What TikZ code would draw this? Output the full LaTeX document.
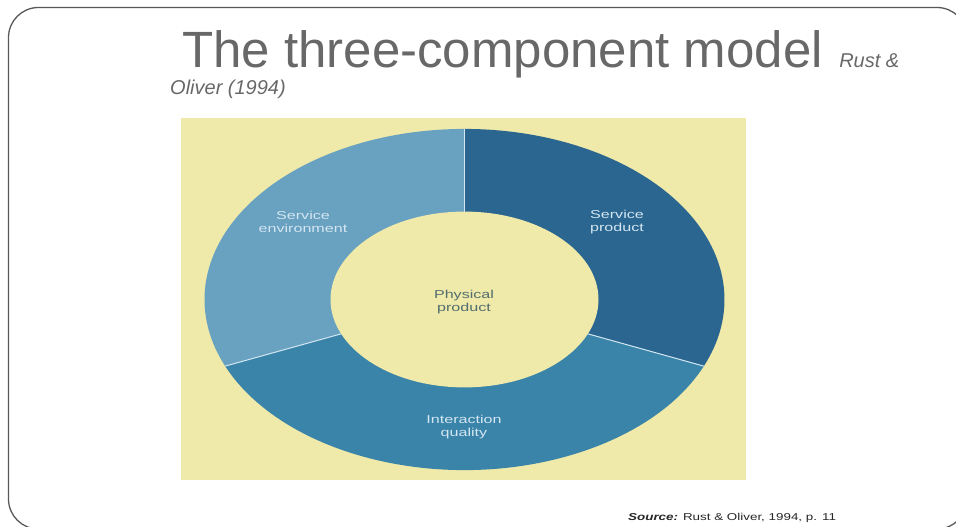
\documentclass[tikz,border=0pt]{standalone}
\usepackage{fontspec}
\setmainfont{Liberation Sans}
\newfontfamily\chartfont[FakeStretch=1.4]{Liberation Sans}
\newfontfamily\sourcefont[FakeStretch=1.34]{Liberation Sans}
\definecolor{slidegray}{HTML}{686868}
\definecolor{paleyellow}{HTML}{EFE9AA}
\definecolor{darkblue}{HTML}{2A6690}
\definecolor{midblue}{HTML}{3A84A9}
\definecolor{lightblue}{HTML}{69A1C1}
\definecolor{labelwhite}{HTML}{D3E6F1}
\definecolor{centretext}{HTML}{526E6E}
\tikzset{frame/.style={draw=black!65,line width=1.3pt,rounded corners=30pt}}
\tikzset{divider/.style={draw=labelwhite,line width=1pt}}
\tikzset{title/.style={inner sep=0pt,text=slidegray,
                       font=\fontsize{51}{60}\selectfont}}
\tikzset{subtitle/.style={title,font=\itshape\fontsize{20}{24}\selectfont}}
\tikzset{segtext/.style={align=center,inner sep=0pt,text=labelwhite,
                         font=\chartfont\fontsize{11.5}{12.5}\selectfont}}
\tikzset{hubtext/.style={segtext,text=centretext}}
\tikzset{sourcetext/.style={inner sep=0pt,text=black!85,
                            font=\sourcefont\fontsize{10}{12}\selectfont}}
\begin{document}
\begin{tikzpicture}[x=1pt,y=1pt]
    \useasboundingbox (0,0) rectangle (956,527);
    \clip (0,0) rectangle (956,527);
    \draw[frame] (8.5,519.5) rectangle (967,-2);
    \fill[paleyellow] (181,47) rectangle (746,409);
    \begin{scope}[shift={(464.5,227.5)},yscale=0.656]
      \fill[darkblue] (0,0) -- (90:260) arc[start angle=90,end angle=-23,radius=260] -- cycle;
      \fill[midblue] (0,0) -- (-23:260) arc[start angle=-23,end angle=-157,radius=260] -- cycle;
      \fill[lightblue] (0,0) -- (203:260) arc[start angle=203,end angle=90,radius=260] -- cycle;
      \fill[paleyellow] (0,0) circle[radius=134];
      \foreach \a in {90,-23,203}{%
          \draw[divider] (\a:134) -- (\a:260);
        }
    \end{scope}
    % Title
    \node[title,anchor=base west] (title) at (182,459) {The three-component model};
    \node[subtitle,anchor=base west] (rust) at ([xshift=16pt]title.base east) {Rust \&};
    \node[subtitle,anchor=base west] (oliver) at (170,432) {Oliver (1994)};
    % Labels
    \node[segtext] (srvprod) at (617,305) {Service\\product};
    \node[segtext] (srvenv) at (303,305) {Service\\environment};
    \node[hubtext] (physical) at (464,225) {Physical\\product};
    \node[segtext] (interact) at (464,100) {Interaction\\quality};
    \node[sourcetext,anchor=base west] (source) at (628,6)
        {{\bfseries\itshape Source:} Rust \& Oliver, 1994, p. 11};
\end{tikzpicture}
\end{document}
